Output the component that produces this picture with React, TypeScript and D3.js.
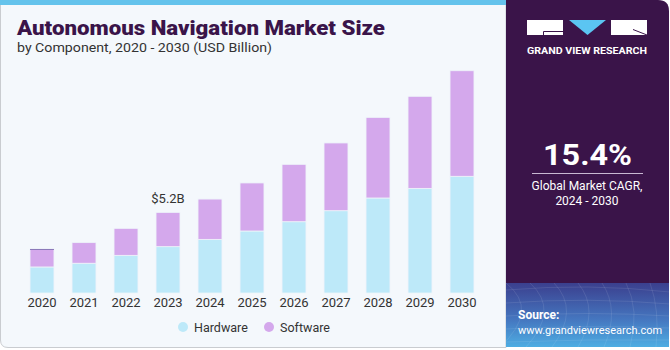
import React from 'react';
import * as d3 from 'd3';

const years = ['2020', '2021', '2022', '2023', '2024', '2025', '2026', '2027', '2028', '2029', '2030'];
const hardware = [1.68, 1.92, 2.43, 2.99, 3.46, 4.0, 4.6, 5.31, 6.13, 6.75, 7.53];
const software = [1.16, 1.33, 1.74, 2.21, 2.6, 3.1, 3.7, 4.37, 5.2, 5.94, 6.81];
const seriesNames = ['Hardware', 'Software'];
const seriesColors = ['#bde9f9', '#d4a8ec'];
const annotated = { year: '2023', label: '$5.2B' };

const W = 670;
const H = 350;
const FONT = 'Roboto, "Liberation Sans", Arial, sans-serif';

export default function App() {
  const x = d3.scaleBand<string>()
    .domain(years)
    .range([21, 483])
    .paddingInner(0.43)
    .paddingOuter(0.215);

  const y = d3.scaleLinear().domain([0, 16]).range([293, 45]);

  const rows = years.map((yr, i) => ({ year: yr, Hardware: hardware[i], Software: software[i] }));
  const stacked = d3.stack<any>().keys(seriesNames)(rows);

  const annIdx = years.indexOf(annotated.year);
  const annTop = y(hardware[annIdx] + software[annIdx]);

  return (
    <svg width={W} height={H} style={{ position: 'absolute', left: 0, top: 0, fontFamily: FONT }}>
      <defs>
        <linearGradient id="srcGrad" x1="0" y1="0" x2="0" y2="1">
          <stop offset="0%" stopColor="#3b3f8e" />
          <stop offset="55%" stopColor="#4577c0" />
          <stop offset="100%" stopColor="#4fb3e6" />
        </linearGradient>
        <clipPath id="rightClip">
          <path d={`M506,0 H658 Q669,0 669,11 V347 H506 Z`} />
        </clipPath>
      </defs>

      {/* left panel */}
      <path d="M0.5,0 H506 V347.5 H8 Q0.5,347.5 0.5,340 Z" fill="#f4f8fc" stroke="#c9ccd0" strokeWidth={1} />
      <rect x={0} y={0} width={506} height={5} fill="#64c3ec" />

      {/* right panel */}
      <g clipPath="url(#rightClip)">
        <rect x={506} y={0} width={164} height={350} fill="#3a1449" />
        <rect x={506} y={283} width={164} height={67} fill="url(#srcGrad)" />
        {d3.range(8).map(i => (
          <path key={'g' + i}
            d={`M${506 + i * 24},283 Q${540 + i * 20},310 ${500 + i * 26},347`}
            fill="none" stroke="#ffffff" strokeOpacity={0.12} strokeWidth={0.8} />
        ))}
        {d3.range(5).map(i => (
          <path key={'h' + i}
            d={`M506,${290 + i * 13} Q588,${283 + i * 14} 670,${292 + i * 12}`}
            fill="none" stroke="#ffffff" strokeOpacity={0.12} strokeWidth={0.8} />
        ))}
      </g>

      {/* logo */}
      <g>
        <path d="M527,20 H563 V35 H527 Z" style={{ fill: '#ffffff' }} />
        <path d="M543.5,35 V31.5 H563" fill="none" stroke="#3a1449" strokeWidth={1} />
        <path d="M569,20 L606,20 L587.5,35 Z" style={{ fill: '#5bc5f2' }} />
        <path d="M611,20 H647 V35 H611 Z" style={{ fill: '#ffffff' }} />
        <path d="M633,29.5 L647,35" fill="none" stroke="#3a1449" strokeWidth={1} />
      </g>
      <text x={527} y={54} fill="#ffffff" fontSize={9} fontWeight={700} textLength={120} lengthAdjust="spacingAndGlyphs">GRAND VIEW RESEARCH</text>

      {/* CAGR */}
      <text x={543} y={165} fill="#ffffff" fontSize={29} fontWeight={700} textLength={89} lengthAdjust="spacingAndGlyphs">15.4%</text>
      <line x1={532} x2={643} y1={173.5} y2={173.5} stroke="#c8b8d2" strokeWidth={1} />
      <text x={587} y={190} textAnchor="middle" fill="#ffffff" fontSize={12}>Global Market CAGR,</text>
      <text x={587} y={205} textAnchor="middle" fill="#ffffff" fontSize={12}>2024 - 2030</text>

      {/* source */}
      <text x={518} y={319} fill="#ffffff" fontSize={12} fontWeight={700}>Source:</text>
      <text x={518} y={334} fill="#ffffff" fontSize={11}>www.grandviewresearch.com</text>

      {/* title */}
      <text x={17} y={35} fill="#3a1449" fontSize={21} fontWeight={900} textLength={368} lengthAdjust="spacingAndGlyphs">Autonomous Navigation Market Size</text>
      <text x={17} y={52} fill="#333333" fontSize={13} textLength={255} lengthAdjust="spacingAndGlyphs">by Component, 2020 - 2030 (USD Billion)</text>

      {/* bars */}
      {stacked.map((s, si) => (
        <g key={s.key} fill={seriesColors[si]}>
          {s.map((d: any) => (
            <rect key={d.data.year}
              x={x(d.data.year)}
              y={y(d[1])}
              width={x.bandwidth()}
              height={y(d[0]) - y(d[1])}
              stroke="#eef4fa" strokeWidth={0.8} />
          ))}
        </g>
      ))}
      <line x1={x('2020')!} x2={x('2020')! + x.bandwidth()}
        y1={y(hardware[0] + software[0]) + 0.5} y2={y(hardware[0] + software[0]) + 0.5}
        stroke="#8a78b8" strokeWidth={1} />

      {/* annotation */}
      <text x={x(annotated.year)! + x.bandwidth() / 2} y={annTop - 9} textAnchor="middle" fill="#333333" fontSize={13}>{annotated.label}</text>

      {/* x axis labels */}
      {years.map(yr => (
        <text key={yr} x={x(yr)! + x.bandwidth() / 2} y={307} textAnchor="middle" fill="#333333" fontSize={13}>{yr}</text>
      ))}

      {/* legend */}
      {seriesNames.map((n, i) => (
        <g key={n} transform={`translate(${i === 0 ? 183 : 269},327)`}>
          <circle cx={0} cy={0} r={5} fill={seriesColors[i]} />
          <text x={11} y={4.5} fill="#333333" fontSize={12.5}>{n}</text>
        </g>
      ))}
    </svg>
  );
}
